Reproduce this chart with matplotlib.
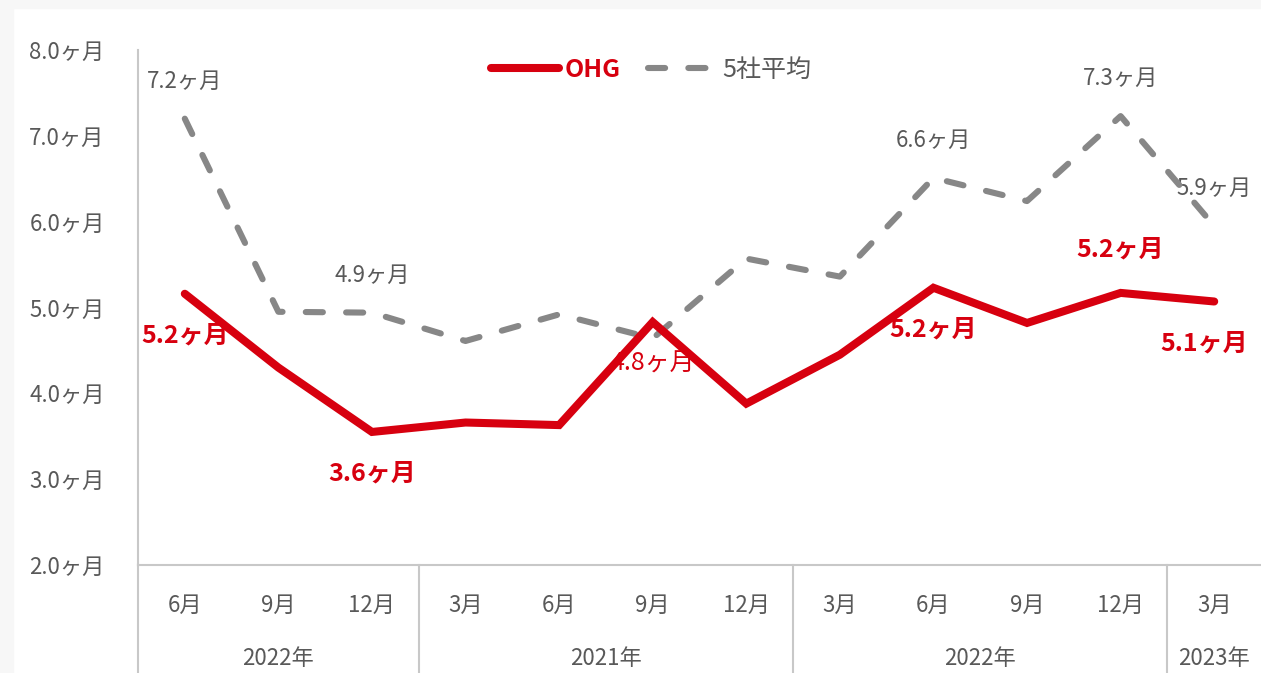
import matplotlib as mpl
import matplotlib.pyplot as plt
from matplotlib.patches import Rectangle
from matplotlib.lines import Line2D
import matplotlib.transforms as mtransforms

plt.rcParams['font.family'] = ['Noto Sans CJK JP', 'DejaVu Sans']

# ----- Data -----
months = ["6月", "9月", "12月", "3月", "6月", "9月", "12月", "3月", "6月", "9月", "12月", "3月"]
years = ["2022年", "2021年", "2022年", "2023年"]
year_spans = [(0, 2), (3, 6), (7, 10), (11, 11)]

ohg = [5.16, 4.30, 3.55, 3.66, 3.63, 4.83, 3.88, 4.45, 5.23, 4.82, 5.17, 5.07]
avg5 = [7.20, 4.95, 4.94, 4.61, 4.92, 4.64, 5.57, 5.36, 6.51, 6.24, 7.23, 5.95]

# data labels shown on the chart (index, text)
ohg_labels = [(0, "5.2ヶ月"), (2, "3.6ヶ月"), (5, "4.8ヶ月"), (8, "5.2ヶ月"), (10, "5.2ヶ月"), (11, "5.1ヶ月")]
avg_labels = [(0, "7.2ヶ月"), (2, "4.9ヶ月"), (8, "6.6ヶ月"), (10, "7.3ヶ月"), (11, "5.9ヶ月")]

# ----- Style -----
red = "#d7000f"
grey_line = "#878787"
grey_text = "#595959"
axis_col = "#c8c8c8"

fig = plt.figure(figsize=(12.61, 6.73), dpi=100)
fig.patches.append(Rectangle((0, 0), 13 / 1261, 1, transform=fig.transFigure, color="#f7f7f7", zorder=-10))
fig.patches.append(Rectangle((0, 1 - 8 / 673), 1, 8 / 673, transform=fig.transFigure, color="#f7f7f7", zorder=-10))

ax = fig.add_axes([138 / 1261, 108 / 673, 1 - 138 / 1261, 515 / 673])
ax.set_facecolor("none")

x = list(range(len(months)))
ax.plot(x, avg5, color=grey_line, lw=4.4, dashes=(2.8, 3.8), dash_capstyle="round",
        solid_joinstyle="round", zorder=3)
ax.plot(x, ohg, color=red, lw=5.8, solid_capstyle="round", solid_joinstyle="miter", zorder=4)

ax.set_xlim(-0.5, len(months) - 0.5)
ax.set_ylim(2, 8)
yt = [2, 3, 4, 5, 6, 7, 8]
ax.set_yticks(yt)
ax.set_yticklabels([f"{v:.1f}ヶ月" for v in yt], fontsize=16, color=grey_text)
ax.tick_params(axis="y", length=0, pad=24)
ax.set_xticks(x)
ax.set_xticklabels(months, fontsize=16, color=grey_text)
ax.tick_params(axis="x", length=0, pad=21)

for s in ["top", "right"]:
    ax.spines[s].set_visible(False)
ax.spines["left"].set_color(axis_col)
ax.spines["bottom"].set_color(axis_col)
ax.spines["left"].set_linewidth(1.5)
ax.spines["bottom"].set_linewidth(1.5)

# group separators and year labels under the axis
trans = mtransforms.blended_transform_factory(ax.transData, ax.transAxes)
for sep in [-0.5, 2.5, 6.5, 10.5]:
    ax.plot([sep, sep], [0, -0.3], transform=trans, color=axis_col, lw=1.5, clip_on=False)
for (a, b), yr in zip(year_spans, years):
    ax.text((a + b) / 2, -0.1825, yr, transform=trans, ha="center", va="center",
            fontsize=16, color=grey_text)

# data labels
for i, t in avg_labels:
    ax.annotate(t, (i, avg5[i]), xytext=(0, 27), textcoords="offset points",
                ha="center", va="center", fontsize=16, color=grey_text, zorder=2)
for i, t in ohg_labels:
    dy = 31 if i == 10 else -30
    dx = -7 if i == 11 else 0
    weight = "normal" if i == 5 else "bold"
    ax.annotate(t, (i, ohg[i]), xytext=(dx, dy), textcoords="offset points",
                ha="center", va="center", fontsize=18, color=red, fontweight=weight, zorder=2)

handles = [Line2D([], [], color=red, lw=5.8, solid_capstyle="round"),
           Line2D([], [], color=grey_line, lw=4.4, dashes=(2.8, 3.8), dash_capstyle="round")]
leg = fig.legend(handles, ["OHG", "5社平均"], loc="center", bbox_to_anchor=(651 / 1261, 1 - 70 / 673),
                 ncol=2, frameon=False, fontsize=18, handlelength=2.7, handletextpad=0.25,
                 columnspacing=1.1)
leg.get_texts()[0].set_color(red)
leg.get_texts()[0].set_fontweight("bold")
leg.get_texts()[1].set_color(grey_text)

fig.savefig("out.png", dpi=100)
